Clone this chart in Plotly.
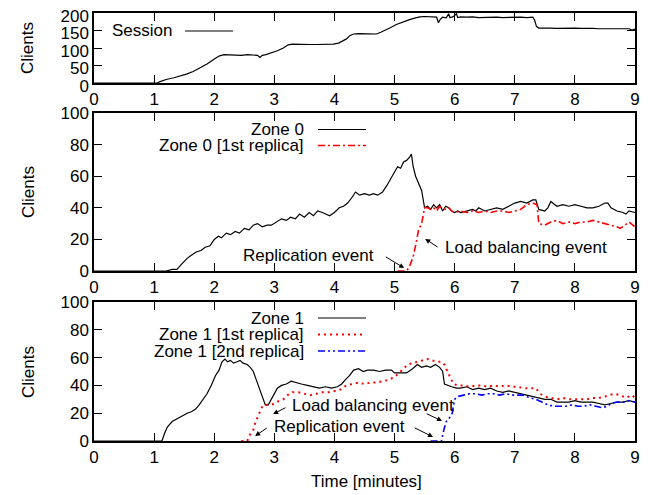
import plotly.graph_objects as go

# ---------------- data (time in minutes, clients) ----------------
session_t = [0, 1.05, 1.1, 1.2, 1.33, 1.45, 1.55, 1.65, 1.77, 1.88, 1.99, 2.08, 2.16, 2.25, 2.35, 2.45, 2.55, 2.65, 2.72, 2.76, 2.8, 2.86, 2.95, 3.05, 3.15, 3.23, 3.3, 3.4, 3.5, 3.6, 3.7, 3.8, 3.9, 3.98, 4.07, 4.15, 4.2, 4.26, 4.32, 4.4, 4.5, 4.6, 4.7, 4.77, 4.84, 4.92, 5.03, 5.14, 5.25, 5.35, 5.42, 5.5, 5.6, 5.7, 5.73, 5.76, 5.8, 5.86, 5.9, 5.92, 5.97, 6.03, 6.05, 6.1, 6.2, 6.3, 6.4, 6.5, 6.6, 6.7, 6.8, 6.9, 7.0, 7.1, 7.2, 7.3, 7.33, 7.36, 7.4, 7.5, 7.6, 7.7, 7.8, 7.9, 8.0, 8.1, 8.2, 8.3, 8.4, 8.5, 8.6, 8.7, 8.8, 8.9, 8.95, 9.0]
session_v = [0, 0, 4, 10, 15, 20, 26, 33, 43, 54, 67, 77, 81, 80, 81, 79, 81, 80, 79, 73, 79, 81, 86, 92, 100, 109, 111, 110, 111, 110, 110, 111, 110, 111, 114, 120, 126, 136, 140, 141, 140, 140, 140, 145, 150, 157, 167, 175, 181, 186, 189, 190, 190, 188, 172, 182, 188, 186, 198, 187, 189, 198, 187, 189, 188, 189, 187, 188, 187, 188, 187, 188, 187, 188, 187, 188, 180, 162, 157, 158, 157, 156, 157, 156, 157, 156, 157, 156, 155, 156, 155, 155, 154, 155, 151, 154]

zone0_t = [0, 1.2, 1.3, 1.38, 1.45, 1.55, 1.62, 1.7, 1.78, 1.85, 1.93, 2.0, 2.07, 2.12, 2.2, 2.27, 2.35, 2.42, 2.5, 2.58, 2.65, 2.72, 2.8, 2.88, 2.95, 3.04, 3.12, 3.2, 3.27, 3.35, 3.42, 3.5, 3.58, 3.65, 3.72, 3.8, 3.86, 3.92, 4.0, 4.08, 4.15, 4.22, 4.3, 4.35, 4.42, 4.5, 4.58, 4.65, 4.72, 4.8, 4.87, 4.93, 5.0, 5.05, 5.1, 5.15, 5.2, 5.25, 5.28, 5.31, 5.35, 5.4, 5.45, 5.5, 5.55, 5.6, 5.65, 5.7, 5.75, 5.8, 5.85, 5.9, 5.95, 6.0, 6.05, 6.1, 6.2, 6.3, 6.35, 6.4, 6.5, 6.6, 6.7, 6.8, 6.9, 7.0, 7.1, 7.2, 7.3, 7.35, 7.4, 7.5, 7.55, 7.6, 7.7, 7.8, 7.9, 8.0, 8.1, 8.2, 8.3, 8.4, 8.5, 8.55, 8.6, 8.7, 8.8, 8.85, 8.9, 9.0]
zone0_v = [0, 0, 1, 1, 4, 8, 10, 12, 13, 15, 16, 20, 22, 21, 24, 23, 25, 24, 27, 26, 29, 30, 28, 29, 29, 31, 33, 32, 34, 33, 36, 34, 37, 35, 38, 37, 36, 35, 37, 40, 41, 43, 47, 50, 48, 49, 48, 49, 48, 50, 54, 58, 62, 66, 65, 69, 70, 72, 74, 66, 60, 56, 51, 40, 41, 39, 42, 40, 42, 38, 41, 40, 38, 37, 38, 37, 38, 39, 38, 40, 38, 39, 40, 39, 41, 43, 44, 43, 45, 45, 39, 38, 40, 44, 41, 42, 41, 42, 41, 40, 40, 41, 43, 43, 40, 38, 37, 36, 38, 37]

zone0_rep1_t = [5.05, 5.2, 5.25, 5.31, 5.36, 5.4, 5.45, 5.5, 5.55, 5.6, 5.65, 5.7, 5.75, 5.8, 5.85, 5.9, 5.95, 6.0, 6.1, 6.2, 6.3, 6.4, 6.5, 6.6, 6.7, 6.8, 6.9, 7.0, 7.1, 7.2, 7.3, 7.37, 7.4, 7.5, 7.6, 7.7, 7.8, 7.9, 8.0, 8.1, 8.2, 8.3, 8.4, 8.5, 8.6, 8.7, 8.75, 8.8, 8.9, 9.0]
zone0_rep1_v = [0, 0, 3, 9, 18, 26, 30, 40, 40, 39, 40, 38, 41, 40, 39, 40, 38, 37, 38, 37, 38, 37, 38, 37, 38, 38, 37, 38, 39, 42, 43, 42, 30, 29, 31, 32, 30, 31, 30, 31, 31, 32, 31, 30, 29, 28, 27, 28, 31, 28]

zone1_t = [0, 1.13, 1.17, 1.22, 1.3, 1.38, 1.47, 1.55, 1.62, 1.69, 1.75, 1.82, 1.88, 1.95, 2.02, 2.08, 2.13, 2.18, 2.22, 2.27, 2.32, 2.38, 2.43, 2.48, 2.55, 2.6, 2.65, 2.7, 2.75, 2.8, 2.85, 2.9, 2.95, 3.0, 3.05, 3.12, 3.2, 3.28, 3.35, 3.45, 3.55, 3.65, 3.75, 3.85, 3.95, 4.05, 4.12, 4.18, 4.25, 4.32, 4.4, 4.48, 4.55, 4.65, 4.75, 4.85, 4.95, 5.0, 5.1, 5.2, 5.3, 5.38, 5.45, 5.53, 5.6, 5.68, 5.75, 5.8, 5.83, 5.88, 5.95, 6.03, 6.1, 6.2, 6.3, 6.4, 6.5, 6.6, 6.7, 6.8, 6.9, 7.0, 7.1, 7.2, 7.3, 7.4, 7.5, 7.6, 7.7, 7.8, 7.9, 8.0, 8.1, 8.2, 8.3, 8.4, 8.5, 8.6, 8.7, 8.8, 8.9, 9.0]
zone1_v = [0, 0, 5, 10, 14, 16, 18, 20, 21, 23, 26, 30, 34, 40, 47, 51, 57, 59, 57, 58, 56, 57, 58, 56, 55, 53, 50, 44, 38, 32, 26, 26, 30, 33, 38, 40, 41, 43, 42, 41, 40, 39, 38, 39, 38, 39, 41, 44, 47, 51, 52, 50, 51, 51, 50, 51, 51, 49, 49, 49, 52, 55, 53, 54, 53, 55, 53, 50, 41, 40, 39, 38, 38, 39, 37, 38, 37, 38, 36, 35, 36, 35, 34, 33, 32, 31, 30, 30, 28, 28, 28, 29, 28, 28, 28, 27, 26, 27, 28, 28, 29, 28]

zone1_rep1_t = [2.45, 2.55, 2.6, 2.65, 2.69, 2.72, 2.76, 2.8, 2.88, 2.95, 3.0, 3.08, 3.15, 3.22, 3.3, 3.4, 3.5, 3.6, 3.7, 3.8, 3.9, 4.0, 4.1, 4.2, 4.3, 4.4, 4.5, 4.6, 4.7, 4.8, 4.9, 5.0, 5.08, 5.15, 5.22, 5.3, 5.4, 5.5, 5.55, 5.62, 5.7, 5.78, 5.83, 5.88, 5.93, 5.98, 6.05, 6.15, 6.25, 6.35, 6.45, 6.55, 6.65, 6.75, 6.85, 6.95, 7.05, 7.15, 7.25, 7.35, 7.42, 7.5, 7.6, 7.7, 7.8, 7.9, 8.0, 8.1, 8.2, 8.3, 8.4, 8.5, 8.6, 8.65, 8.75, 8.85, 8.95, 9.0]
zone1_rep1_v = [0, 0, 5, 8, 14, 17, 22, 25, 26, 26, 27, 29, 30, 33, 35, 35, 34, 33, 34, 35, 35, 36, 37, 40, 41, 42, 41, 42, 42, 43, 44, 46, 49, 52, 55, 56, 57, 58, 59, 58, 57, 57, 55, 50, 45, 41, 40, 40, 39, 40, 40, 39, 40, 39, 40, 39, 39, 38, 38, 38, 34, 32, 31, 30, 31, 30, 30, 30, 30, 31, 31, 32, 33, 34, 33, 31, 33, 31]

zone1_rep2_t = [5.6, 5.78, 5.82, 5.86, 5.92, 5.96, 6.0, 6.05, 6.15, 6.25, 6.35, 6.45, 6.55, 6.65, 6.75, 6.85, 6.95, 7.05, 7.15, 7.25, 7.35, 7.45, 7.55, 7.65, 7.75, 7.85, 7.95, 8.05, 8.15, 8.25, 8.35, 8.45, 8.55, 8.6, 8.7, 8.8, 8.9, 9.0]
zone1_rep2_v = [0, 0, 8, 14, 17, 20, 30, 32, 33, 34, 34, 33, 34, 34, 33, 34, 33, 33, 33, 31, 30, 28, 26, 25, 25, 25, 26, 25, 25, 26, 25, 24, 25, 27, 28, 28, 29, 28]

x_ticks = [0, 1, 2, 3, 4, 5, 6, 7, 8, 9]
y_ticks_top = [0, 50, 100, 150, 200]
y_ticks_zone = [0, 20, 40, 60, 80, 100]

# ---------------- styling ----------------
FONT = "Liberation Sans, Arial, sans-serif"
FS = 17
RED_DASHDOT = "7px,3px,2px,3px"
RED_DOT = "2px,4px"
BLUE_DASHDOTDOT = "7px,3px,2px,3px,2px,3px"

fig = go.Figure()
fig.add_trace(go.Scatter(x=session_t, y=session_v, mode="lines", xaxis="x", yaxis="y",
                         line=dict(color="black", width=1.2), name="Session"))
fig.add_trace(go.Scatter(x=zone0_t, y=zone0_v, mode="lines", xaxis="x2", yaxis="y2",
                         line=dict(color="black", width=1.2), name="Zone 0"))
fig.add_trace(go.Scatter(x=zone0_rep1_t, y=zone0_rep1_v, mode="lines", xaxis="x2", yaxis="y2",
                         line=dict(color="#ff0000", width=1.6, dash=RED_DASHDOT), name="Zone 0 [1st replica]"))
fig.add_trace(go.Scatter(x=zone1_t, y=zone1_v, mode="lines", xaxis="x3", yaxis="y3",
                         line=dict(color="black", width=1.2), name="Zone 1"))
fig.add_trace(go.Scatter(x=zone1_rep1_t, y=zone1_rep1_v, mode="lines", xaxis="x3", yaxis="y3",
                         line=dict(color="#ff0000", width=2, dash=RED_DOT), name="Zone 1 [1st replica]"))
fig.add_trace(go.Scatter(x=zone1_rep2_t, y=zone1_rep2_v, mode="lines", xaxis="x3", yaxis="y3",
                         line=dict(color="#0000ff", width=1.6, dash=BLUE_DASHDOTDOT), name="Zone 1 [2nd replica]"))

def xax(anchor):
    return dict(anchor=anchor, domain=[0, 1], range=[0, 9], tickvals=x_ticks,
                ticks="inside", ticklen=8, tickwidth=1, tickcolor="black",
                showline=True, linecolor="black", linewidth=1.5, mirror="ticks",
                showgrid=False, zeroline=False, automargin=False,
                ticklabeloverflow="allow",
                tickfont=dict(family=FONT, size=FS, color="black"))

def yax(anchor, domain, rng, ticks, shift=0):
    return dict(anchor=anchor, domain=domain, range=rng, tickvals=ticks,
                ticks="inside", ticklen=8, tickwidth=1, tickcolor="black",
                showline=True, linecolor="black", linewidth=1.5, mirror="ticks",
                showgrid=False, zeroline=False, automargin=False,
                ticklabeloverflow="allow", ticklabelshift=shift,
                tickfont=dict(family=FONT, size=FS, color="black"))

# page body has an 8px margin: figure is drawn 8px right/down in the window
OFF = 8
W, H = 648 - OFF, 495 - OFF
PX0, PX1, PY0, PY1 = 94, 635, 13, 441   # plot area in window pixels
L, R, T, B = PX0 - OFF, 648 - PX1, PY0 - OFF, 495 - PY1
PW, PH = PX1 - PX0, PY1 - PY0

def fx(px):
    return (px - PX0) / PW

def fy(py):
    return (PY1 - py) / PH

fig.update_layout(
    width=W, height=H, showlegend=False,
    paper_bgcolor="white", plot_bgcolor="white",
    margin=dict(l=L, r=R, t=T, b=B, autoexpand=False),
    font=dict(family=FONT, size=FS, color="black"),
    xaxis=xax("y"), yaxis=yax("x", [fy(83), fy(13)], [0, 200], y_ticks_top, shift=3),
    xaxis2=xax("y2"), yaxis2=yax("x2", [fy(271), fy(113)], [0, 100], y_ticks_zone),
    xaxis3=xax("y3"), yaxis3=yax("x3", [fy(441), fy(302)], [0, 100], y_ticks_zone),
)

ann = []
shapes = []

def legend_entry(text, py, line):
    ann.append(dict(text=text, xref="paper", yref="paper", x=fx(306), y=fy(py),
                    xanchor="right", yanchor="middle", showarrow=False,
                    font=dict(family=FONT, size=FS, color="black")))
    shapes.append(dict(type="line", xref="paper", yref="paper", x0=fx(318), x1=fx(366),
                       y0=fy(py), y1=fy(py), line=line))

# top legend
ann.append(dict(text="Session", xref="paper", yref="paper", x=fx(174), y=fy(31),
                xanchor="right", yanchor="middle", showarrow=False,
                font=dict(family=FONT, size=FS, color="black")))
shapes.append(dict(type="line", xref="paper", yref="paper", x0=fx(185), x1=fx(233),
                   y0=fy(31), y1=fy(31), line=dict(color="black", width=1.2)))

legend_entry("Zone 0", 129.5, dict(color="black", width=1.2))
legend_entry("Zone 0 [1st replica]", 145.5, dict(color="#ff0000", width=1.6, dash=RED_DASHDOT))
legend_entry("Zone 1", 318, dict(color="black", width=1.2))
legend_entry("Zone 1 [1st replica]", 334.5, dict(color="#ff0000", width=2, dash=RED_DOT))
legend_entry("Zone 1 [2nd replica]", 351, dict(color="#0000ff", width=1.6, dash=BLUE_DASHDOTDOT))

# y titles
for py in (48, 192, 372):
    ann.append(dict(text="Clients", xref="paper", yref="paper", x=fx(28), y=fy(py),
                    xanchor="center", yanchor="middle", textangle=-90, showarrow=False,
                    font=dict(family=FONT, size=FS, color="black")))
# x title
ann.append(dict(text="Time [minutes]", xref="paper", yref="paper", x=fx(366), y=fy(481),
                xanchor="center", yanchor="middle", showarrow=False,
                font=dict(family=FONT, size=FS, color="black")))

def label(text, x, y, xr, yr):
    ann.append(dict(text=text, xref=xr, yref=yr, x=x, y=y, xanchor="center", yanchor="middle",
                    showarrow=False, font=dict(family=FONT, size=FS, color="black")))

def arrow(x, y, ax, ay, xr, yr):
    ann.append(dict(text="", xref=xr, yref=yr, x=x, y=y, ax=ax, ay=ay, axref=xr, ayref=yr,
                    showarrow=True, arrowhead=2, arrowsize=1, arrowwidth=1, arrowcolor="black"))

# zone 0 events
label("Replication event", 3.57, 9.8, "x2", "y2")
arrow(5.16, 1.9, 4.83, 9.5, "x2", "y2")
label("Load balancing event", 7.19, 14.7, "x2", "y2")
arrow(5.51, 20.3, 5.74, 14.6, "x2", "y2")

# zone 1 events
label("Load balancing event", 4.64, 25.2, "x3", "y3")
arrow(2.98, 19.4, 3.21, 24.5, "x3", "y3")
arrow(5.79, 14.4, 5.51, 20.1, "x3", "y3")
label("Replication event", 4.09, 10.1, "x3", "y3")
arrow(2.68, 3.6, 2.9, 10.1, "x3", "y3")
arrow(5.64, 2.9, 5.31, 10.0, "x3", "y3")

fig.update_layout(annotations=ann, shapes=shapes)
fig.write_html("out.html")
